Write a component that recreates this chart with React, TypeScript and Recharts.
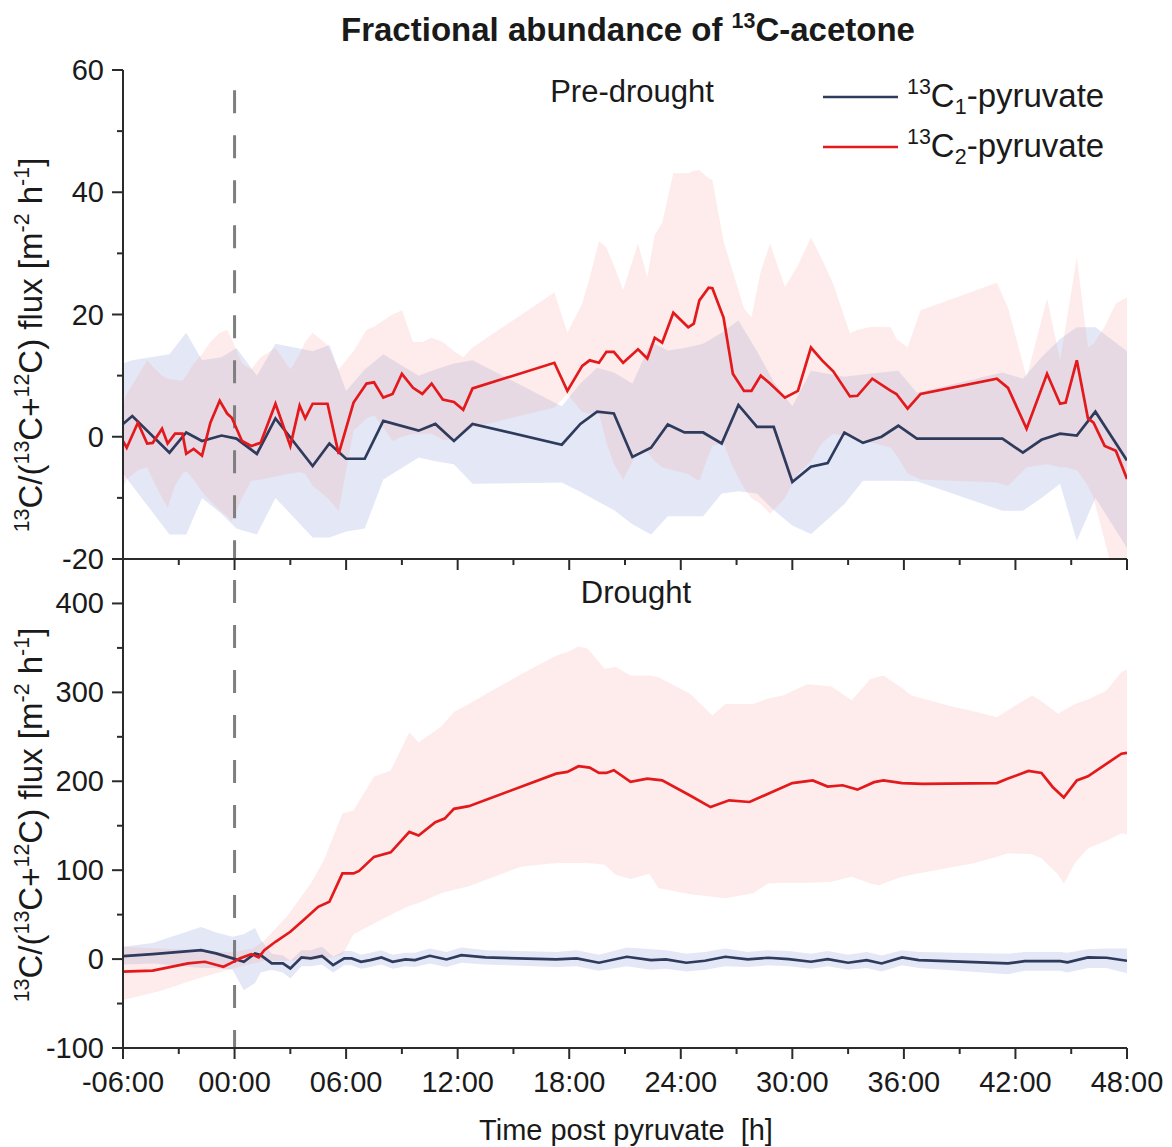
import React from "react";
import { ComposedChart, Line, Area, XAxis, YAxis, ReferenceLine } from "recharts";

// ---- pre-drought panel ----
const preC1Time = [-6, -5.5, -3.5, -2.6, -1.75, -0.7, 0.1, 1.2, 2.2, 4.2, 5.1, 6.0, 7.0, 8.0, 9.9, 10.8, 11.8, 12.8, 17.6, 18.6, 19.5, 20.4, 21.4, 22.4, 23.3, 24.2, 25.2, 26.2, 27.1, 28.1, 29.0, 30.0, 31.0, 31.9, 32.8, 33.8, 34.8, 35.7, 36.7, 41.3, 42.4, 43.4, 44.4, 45.3, 46.3, 48];
const preC1Mean = [2.1, 3.4, -2.6, 0.7, -0.7, 0.2, -0.3, -2.8, 3.0, -4.8, -1.1, -3.6, -3.6, 2.6, 1.0, 2.1, -0.7, 2.1, -1.3, 2.1, 4.1, 3.8, -3.3, -1.8, 2.0, 0.7, 0.7, -1.1, 5.2, 1.6, 1.6, -7.4, -4.9, -4.3, 0.7, -1.0, 0, 1.8, -0.3, -0.3, -2.6, -0.5, 0.5, 0.2, 4.1, -3.9];
const preC1High = [12, 12.5, 13.5, 17, 12.5, 13, 14.5, 10, 15.2, 14, 15, 7.5, 11, 13.5, 10, 11, 12, 12.5, 5, 8.7, 11.3, 10.5, 8.7, 15.5, 14.1, 14.5, 15.2, 17, 19, 14, 9, 5, 10.8, 10.3, 9.8, 10.2, 10.5, 10.8, 7.2, 10.5, 9.5, 13, 16, 17.9, 17.9, 14];
const preC1Low = [-6, -8, -16, -16, -10, -12.6, -15, -16, -10, -16.5, -16.5, -15.5, -15, -7, -3.4, -4, -4.5, -7.7, -7.5, -9, -10.5, -12, -14.3, -16, -13, -13, -13, -9.3, -8.9, -9.3, -12, -14.5, -15.9, -13.5, -11, -7.2, -7.2, -7.2, -7.3, -12.1, -12.1, -10, -7.7, -17, -10, -18.2];

const preC2Time = [-6, -5.8, -5.2, -4.7, -4.4, -3.9, -3.6, -3.2, -2.8, -2.6, -2.2, -1.75, -1.3, -0.8, -0.4, -0.15, 0.4, 0.9, 1.4, 2.2, 3.0, 3.5, 3.8, 4.2, 5.0, 5.6, 6.4, 7.1, 7.5, 8.0, 8.5, 9.0, 9.6, 10.1, 10.6, 11.2, 11.8, 12.3, 12.8, 17.2, 17.9, 18.7, 19.1, 19.6, 20.0, 20.4, 20.9, 21.7, 22.2, 22.6, 23.0, 23.6, 24.4, 24.7, 25.0, 25.5, 25.7, 26.3, 26.8, 27.4, 27.8, 28.3, 28.8, 29.6, 30.3, 31.0, 31.6, 32.2, 33.1, 33.5, 34.3, 35.3, 35.6, 36.2, 36.9, 41.0, 41.6, 42.6, 43.7, 44.4, 44.7, 45.3, 45.9, 46.2, 46.8, 47.4, 48];
const preC2Mean = [-0.7, -1.8, 2.3, -1.1, -1.0, 1.3, -1.1, 0.5, 0.5, -2.8, -2.0, -3.1, 2.3, 5.9, 3.8, 3.1, -0.7, -1.5, -1.0, 5.4, -1.5, 5.1, 3.0, 5.4, 5.4, -2.8, 5.6, 8.7, 8.9, 6.4, 7.0, 10.3, 8.0, 7.0, 8.7, 6.1, 5.7, 4.4, 7.9, 12.1, 7.5, 11.6, 12.5, 12.1, 13.9, 13.9, 12.1, 14.3, 12.8, 16.2, 15.4, 20.3, 17.9, 18.5, 22.3, 24.4, 24.3, 19.5, 10.3, 7.5, 7.5, 10.0, 8.7, 6.4, 7.5, 14.6, 12.5, 10.7, 6.6, 6.7, 9.5, 7.5, 7.0, 4.6, 7.0, 9.5, 8.0, 1.3, 10.3, 5.4, 5.6, 12.5, 3.0, 2.3, -1.5, -2.3, -6.9];
const preC2High = [5, 7, 10, 12.5, 11.5, 10, 9.5, 9.3, 9.2, 10, 12, 13.5, 15.5, 17, 17.5, 16, 12, 11, 13, 14.5, 11, 13.5, 15.5, 17, 15, 11, 14, 17.5, 18, 19, 20, 20.7, 15.5, 15.5, 16.2, 15.5, 14, 13, 14.6, 23.6, 17, 21.8, 26, 32, 31, 28, 24, 31.6, 26.1, 33, 35, 43.1, 43.1, 43.5, 43.6, 42.3, 42, 32, 27, 21, 19.5, 27, 31.6, 24.5, 28, 32.6, 29, 25, 16.9, 17.5, 18, 17.9, 16, 14.6, 20.7, 25.2, 21.1, 9.7, 22.6, 12.5, 18, 29.3, 14.6, 15.2, 18, 21.8, 22.8];
const preC2Low = [-8.4, -7, -5.5, -5, -7, -10, -11.6, -8, -6, -5.6, -7, -9, -10.5, -12, -13, -13.8, -10, -7.2, -7, -6.5, -6, -5.8, -6, -8, -10, -12.1, 1, 3, 3.5, 1.5, -0.7, 0, 0.5, 0.5, 0.5, -0.5, -0.5, 0.5, 1.5, 4.8, 7, 4, 3.8, 3.8, -1, -4.4, -7, -2.3, -2.5, -4, -5, -5.5, -6.1, -6.8, -7.2, -3, -1.5, -1, -5, -8.4, -10, -11, -12.6, -10, -6, -4, -1, 0.5, 0, -0.7, -1, -1.8, -3, -6, -7, -7.5, -8, -5, -4.5, -5, -5, -5.5, -8, -10, -17, -24, -30];

// ---- drought panel ----
const drC1Time = [-6, -4.4, -1.8, -1.0, -0.1, 0.5, 1.1, 1.4, 2.0, 2.6, 3.0, 3.6, 4.1, 4.7, 5.3, 5.9, 6.3, 6.8, 7.3, 7.9, 8.5, 9.2, 9.7, 10.5, 11.4, 12.2, 13.5, 17.3, 18.4, 19.6, 21.1, 22.4, 23.2, 24.3, 25.3, 26.4, 27.6, 28.7, 29.8, 31.0, 31.9, 33.0, 34.0, 34.8, 35.9, 36.8, 41.6, 42.5, 44.4, 44.8, 45.9, 46.9, 48];
const drC1Mean = [3.4, 5.6, 10, 6.4, 0.8, -3, 6.4, 4.5, -4.9, -4.9, -10.5, 1.9, 0.8, 3.4, -6.7, 0.8, 0.8, -3, -1.1, 1.9, -3, -0.4, -1.1, 3.7, -0.4, 4.5, 1.9, -0.4, 0.8, -4.1, 2.6, -1.1, -0.4, -4.1, -1.9, 2.6, -0.4, 1.5, 0, -3, 0, -4.1, -1.1, -4.9, 1.9, -1.1, -4.9, -2.2, -2.2, -3.7, 1.9, 1.5, -1.9];
const drC1High = [14, 18, 36, 30, 25, 28, 35, 22, 6, 4, -2, 10, 10, 14, 3, 9, 9, 5, 7, 10, 5, 7, 7, 12, 8, 13, 10, 8, 10, 5, 13, 11, 10, 6, 8, 12, 8, 10, 9, 6, 9, 5, 8, 4, 10, 8, 6, 8, 8, 7, 11, 12, 12];
const drC1Low = [-6, -5, -10, -10, -12, -35, -27, -15, -12, -15, -21.7, -8, -8, -6, -15, -7, -7, -11, -9, -6, -11, -8, -9, -5, -9, -4, -6, -9, -8, -13, -8, -12, -11, -14, -12, -8, -9, -7, -8, -11, -8, -12, -10, -14, -7, -10, -17, -13, -13, -15, -10, -10, -16];

const drC2Time = [-6, -4.4, -2.5, -1.6, -0.6, -0.2, 0.3, 0.9, 1.3, 1.6, 2.2, 3.0, 3.7, 4.5, 5.1, 5.8, 6.4, 6.7, 7.5, 8.4, 9.4, 9.9, 10.8, 11.3, 11.8, 12.6, 17.3, 17.9, 18.5, 19.1, 19.6, 20.0, 20.4, 21.3, 22.2, 23.0, 24.5, 25.6, 26.6, 27.7, 28.7, 30.0, 31.1, 31.9, 32.7, 33.5, 34.4, 34.9, 35.9, 37.0, 41.0, 41.6, 42.7, 43.4, 44.0, 44.6, 45.3, 45.9, 47.7, 48];
const drC2Mean = [-14.2, -13, -4.9, -3, -8.6, -4.5, 1, 5.6, 2, 10, 19.5, 30.7, 43.8, 58.8, 64.4, 96.3, 96.3, 99.2, 115, 120, 143, 139, 154, 158, 169, 172, 208.6, 210.5, 216.9, 215.4, 209.4, 209.4, 212.4, 199.3, 203, 201, 184, 171, 178.6, 176.7, 186, 198, 201, 194, 195.5, 190.6, 199, 201, 198, 197, 198, 203, 211.6, 209.4, 193.6, 181.7, 201, 205.6, 231, 232];
const drC2BandTime = [-6, -4, -2, -1, 0, 1, 1.6, 2.8, 4.1, 4.8, 5.8, 6.4, 7.5, 8.4, 9.4, 9.9, 11.1, 11.8, 12.6, 13.5, 15.4, 17.3, 17.9, 18.5, 19.0, 19.9, 20.5, 21.3, 22.3, 22.8, 24.5, 25.7, 26.4, 27.9, 28.7, 29.5, 30.8, 32.1, 33.2, 34.2, 34.7, 34.9, 35.9, 36.4, 38.7, 39.7, 41.0, 41.6, 42.9, 43.4, 44.3, 44.6, 45.2, 45.9, 46.9, 47.7, 48];
const drC2High = [14, 12, 10, 8, 8, 12, 21, 47.5, 85, 111, 163.7, 167, 205, 212, 255, 244, 261, 278, 287, 298, 320, 341.6, 345, 351.7, 349, 326.6, 328.4, 319, 319, 317, 298.5, 274, 287, 287, 293, 296.6, 309, 306.7, 291, 315, 318, 319, 305, 296.6, 283.5, 279, 272, 280, 296.6, 290, 276, 280, 287, 292, 302, 322.8, 326];
const drC2Low = [-46, -36, -22, -16, -10, -5, -2, -2, -1, 0, 5, 28, 40, 50, 60, 63, 74, 78, 82, 89, 104, 108, 108, 108, 108, 106, 95, 90, 96, 80, 73, 70, 68.5, 74, 85, 86, 86, 87, 92.5, 85, 83, 85, 92.5, 95, 104, 107.5, 115, 119, 118, 113.5, 95, 85, 108, 124.7, 133, 141.6, 140];

const xTicks = [-6, -3, 0, 3, 6, 9, 12, 15, 18, 21, 24, 27, 30, 33, 36, 39, 42, 45, 48];
const preTicks = [-20, -10, 0, 10, 20, 30, 40, 50, 60];
const drTicks = [-100, -50, 0, 50, 100, 150, 200, 250, 300, 350, 400];

const FONT = "'Liberation Sans', Arial, Helvetica, sans-serif";
const INK = "#1a1a1a";
const AXIS = "#2b2b2b";
const BLUE = "#2e3b5c";
const RED = "#e3191c";

const rows = (t: number[], m: number[] | null, lo?: number[], hi?: number[]) =>
  t.map((x, i) => ({ t: x, mean: m ? m[i] : null, band: lo && hi ? [lo[i], hi[i]] : null }));

const fmtHour = (h: number) => `${h < 0 ? "-" : ""}${String(Math.abs(h)).padStart(2, "0")}:00`;

type Seg = [string, "n" | "sup" | "sub"];
function rich(segs: Seg[], size: number) {
  let level = 0;
  return segs.map(([s, k], i) => {
    const target = k === "sup" ? -size * 0.4 : k === "sub" ? size * 0.22 : 0;
    const dy = target - level;
    level = target;
    return (
      <tspan key={i} dy={dy} fontSize={k === "n" ? size : size * 0.65}>
        {s}
      </tspan>
    );
  });
}

function XTick(props: any) {
  const { x, y, payload, labels } = props;
  const v = payload.value;
  const major = v % 6 === 0;
  return (
    <g>
      <line x1={x} x2={x} y1={y} y2={y + (major ? 11 : 6)} stroke={AXIS} strokeWidth={2} />
      {labels && major && (
        <text x={x} y={y + 44} textAnchor="middle" fontSize={29} fill={INK} fontFamily={FONT}>
          {fmtHour(v)}
        </text>
      )}
    </g>
  );
}

function YTick(props: any) {
  const { x, y, payload, step } = props;
  const v = payload.value;
  const major = v % step === 0;
  return (
    <g>
      <line x1={x - (major ? 11 : 6)} x2={x} y1={y} y2={y} stroke={AXIS} strokeWidth={2} />
      {major && (
        <text x={x - 19} y={y + 10} textAnchor="end" fontSize={29} fill={INK} fontFamily={FONT}>
          {v}
        </text>
      )}
    </g>
  );
}

function Panel(props: any) {
  const { width, height, margin, xHeight, domain, ticks, step, labels, c1, c2, c1Band, c2Band, dash } = props;
  return (
    <ComposedChart width={width} height={height} margin={margin}>
      <XAxis
        type="number"
        dataKey="t"
        domain={[-6, 48]}
        ticks={xTicks}
        interval={0}
        allowDataOverflow
        height={xHeight}
        tickLine={false}
        tickSize={0}
        tickMargin={0}
        axisLine={{ stroke: AXIS, strokeWidth: 2 }}
        tick={(p: any) => <XTick {...p} labels={labels} />}
      />
      <YAxis
        type="number"
        domain={domain}
        ticks={ticks}
        interval={0}
        allowDataOverflow
        width={123}
        tickLine={false}
        tickSize={0}
        tickMargin={0}
        axisLine={{ stroke: AXIS, strokeWidth: 2 }}
        tick={(p: any) => <YTick {...p} step={step} />}
      />
      <Area data={c1Band} dataKey="band" type="linear" stroke="none" fill="#c7d0ee" fillOpacity={0.5} isAnimationActive={false} dot={false} activeDot={false} />
      <Area data={c2Band} dataKey="band" type="linear" stroke="none" fill="#f7a8a2" fillOpacity={0.22} isAnimationActive={false} dot={false} activeDot={false} />
      <ReferenceLine segment={dash.segment} stroke="#7f7f7f" strokeWidth={3} strokeDasharray="23 22" strokeDashoffset={dash.offset} />
      <Line data={c1} dataKey="mean" type="linear" stroke={BLUE} strokeWidth={2.7} dot={false} activeDot={false} isAnimationActive={false} />
      <Line data={c2} dataKey="mean" type="linear" stroke={RED} strokeWidth={2.7} dot={false} activeDot={false} isAnimationActive={false} />
    </ComposedChart>
  );
}

export default function App() {
  const preC1 = rows(preC1Time, preC1Mean, preC1Low, preC1High);
  const preC2 = rows(preC2Time, preC2Mean, preC2Low, preC2High);
  const drC1 = rows(drC1Time, drC1Mean, drC1Low, drC1High);
  const drC2 = rows(drC2Time, drC2Mean);
  const drC2Band = rows(drC2BandTime, null, drC2Low, drC2High);

  const yLabel: Seg[] = [
    ["13", "sup"], ["C/(", "n"], ["13", "sup"], ["C+", "n"], ["12", "sup"], ["C) flux [m", "n"],
    ["-2", "sup"], [" h", "n"], ["-1", "sup"], ["]", "n"],
  ];

  return (
    <div style={{ position: "absolute", left: 0, top: 0, width: 1172, height: 1147, background: "#fff", fontFamily: FONT }}>
      <div style={{ position: "absolute", left: 0, top: 0 }}>
        <Panel
          width={1172} height={580} margin={{ top: 70, right: 45, bottom: 1, left: 0 }} xHeight={20}
          domain={[-20, 60]} ticks={preTicks} step={20} labels={false}
          c1={preC1} c2={preC2} c1Band={preC1} c2Band={preC2}
          dash={{ segment: [{ x: 0, y: 56.7 }, { x: 0, y: -20 }], offset: 0 }}
        />
      </div>
      <div style={{ position: "absolute", left: 0, top: 540 }}>
        <Panel
          width={1172} height={558} margin={{ top: 19, right: 45, bottom: 0, left: 0 }} xHeight={50}
          domain={[-100, 450]} ticks={drTicks} step={100} labels={true}
          c1={drC1} c2={drC2} c1Band={drC1} c2Band={drC2Band}
          dash={{ segment: [{ x: 0, y: 450 }, { x: 0, y: -100 }], offset: 24 }}
        />
      </div>
      <svg width={1172} height={1147} style={{ position: "absolute", left: 0, top: 0, pointerEvents: "none" }} fontFamily={FONT}>
        <text x={628} y={41} textAnchor="middle" fontWeight="bold" fill={INK}>
          {rich([["Fractional abundance of ", "n"], ["13", "sup"], ["C-acetone", "n"]], 33)}
        </text>
        <text x={632} y={102} textAnchor="middle" fontSize={31} fill={INK}>Pre-drought</text>
        <text x={636} y={603} textAnchor="middle" fontSize={31} fill={INK}>Drought</text>

        <line x1={823} x2={898} y1={97} y2={97} stroke={BLUE} strokeWidth={2.5} />
        <text x={907} y={107} fill={INK}>
          {rich([["13", "sup"], ["C", "n"], ["1", "sub"], ["-pyruvate", "n"]], 33)}
        </text>
        <line x1={823} x2={898} y1={147} y2={147} stroke={RED} strokeWidth={2.5} />
        <text x={907} y={157} fill={INK}>
          {rich([["13", "sup"], ["C", "n"], ["2", "sub"], ["-pyruvate", "n"]], 33)}
        </text>

        <text transform="translate(42,345) rotate(-90)" textAnchor="middle" fill={INK}>
          {rich(yLabel, 33)}
        </text>
        <text transform="translate(42,815) rotate(-90)" textAnchor="middle" fill={INK}>
          {rich(yLabel, 33)}
        </text>

        <text x={626} y={1140} textAnchor="middle" fontSize={29} fill={INK} style={{ whiteSpace: "pre" }}>
          {"Time post pyruvate  [h]"}
        </text>
      </svg>
    </div>
  );
}
